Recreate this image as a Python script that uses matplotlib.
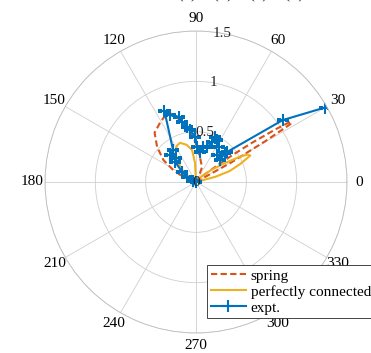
import numpy as np
import matplotlib
matplotlib.use("Agg")
import matplotlib.pyplot as plt

plt.rcParams['font.family'] = ['Liberation Serif', 'DejaVu Serif']

# measured response (angle in degrees, radius)
expt_theta = [30, 35.5, 44, 45, 42.5, 52, 56.7, 63.4, 67, 68, 72.5, 78.7, 82, 88,
              91, 96.6, 99, 103, 104.7, 111, 114, 125.7, 134, 130, 136, 144, 151,
              162, 180]
expt_r = [1.48, 1.06, 0.43, 0.41, 0.32, 0.34, 0.42, 0.47, 0.49, 0.43, 0.36, 0.355,
          0.30, 0.35, 0.45, 0.52, 0.55, 0.61, 0.67, 0.71, 0.77, 0.39, 0.37, 0.31,
          0.29, 0.17, 0.10, 0.03, 0.0]

# spring model
spring_theta = [27, 29, 30.5, 31.5, 32.5, 33.5, 35, 36.5, 38, 42, 50, 58, 68, 81,
                91, 99, 104.5, 110.6, 116, 121, 130, 138, 146, 152, 156, 165, 180]
spring_r = [0, 0.4, 0.8, 1.1, 1.12, 0.95, 0.68, 0.45, 0.25, 0.1, 0.03, 0.04, 0.16,
            0.25, 0.40, 0.55, 0.64, 0.73, 0.72, 0.69, 0.64, 0.52, 0.39, 0.26, 0.17,
            0.05, 0]

# perfectly connected model
pc_theta = [10, 15, 18, 22, 26, 28, 30, 33, 38, 45, 55, 85, 93, 97, 104, 112, 117,
            123, 131, 139, 150, 165]
pc_r = [0, 0.2, 0.35, 0.47, 0.6, 0.58, 0.5, 0.35, 0.2, 0.08, 0.01, 0, 0.19, 0.32,
        0.38, 0.42, 0.41, 0.38, 0.29, 0.18, 0.06, 0]

theta_ticks = list(range(0, 360, 30))
r_ticks = [0.5, 1, 1.5]
r_tick_labels = ['0.5', '1', '1.5']

c_spring = '#D95319'
c_pc = '#EDB120'
c_expt = '#0072BD'
grid_c = '#cfcfcf'

fig = plt.figure(figsize=(3.71, 3.53), dpi=100)
ax = fig.add_axes([45 / 371, 20 / 353, 302 / 371, 302 / 353], projection='polar')

ax.plot(np.deg2rad(spring_theta), spring_r, '--', color=c_spring, lw=1.5,
        dashes=(3, 1.6), label='spring')
ax.plot(np.deg2rad(pc_theta), pc_r, '-', color=c_pc, lw=1.5,
        label='perfectly connected')
ax.plot(np.deg2rad(expt_theta), expt_r, '-', color=c_expt, lw=1.5, marker='+',
        ms=8, mew=1.5, label='expt.')

ax.set_ylim(0, 1.5)
ax.set_rticks(r_ticks)
ax.set_yticklabels([])
ax.set_thetagrids(theta_ticks, labels=[str(t) for t in theta_ticks], fontsize=11)
ax.tick_params(axis='x', pad=-1.5)
ax.grid(True, color=grid_c, lw=0.6)
ax.spines['polar'].set_color('#bdbdbd')
ax.spines['polar'].set_linewidth(0.6)

for r, lab in zip([0] + r_ticks, ['0'] + r_tick_labels):
    ax.text(np.deg2rad(80), r, lab, ha='center', va='center', fontsize=11,
            color='#262626')

fig.text(241 / 371, 1.0 + 3 / 353, '(a)    (b)    (c)    (d)', ha='center',
         va='baseline', fontsize=12, color='#262626')

leg = fig.legend(loc='upper left', bbox_to_anchor=(207 / 371, 1 - 265 / 353),
                 fontsize=11, frameon=True, fancybox=False, handlelength=2.3,
                 handletextpad=0.3, borderpad=0.25, labelspacing=0.15,
                 borderaxespad=0, framealpha=1)
leg.get_frame().set_edgecolor('#262626')
leg.get_frame().set_linewidth(0.6)

fig.savefig('out.png', dpi=100)
